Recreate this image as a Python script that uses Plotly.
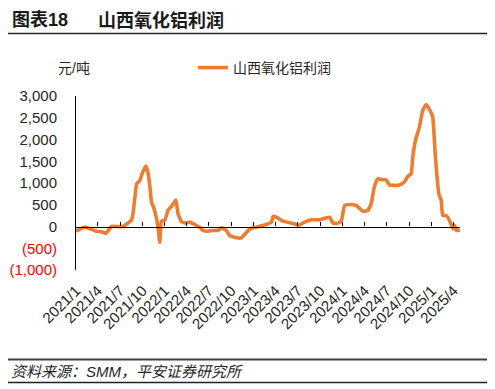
import plotly.graph_objects as go

# ---------------- data ----------------
dates = ["2021-01-01","2021-02-06","2021-03-26","2021-04-21","2021-05-04","2021-05-27","2021-07-12","2021-08-17","2021-08-24","2021-09-07","2021-09-13","2021-09-20","2021-10-02","2021-10-15","2021-10-23","2021-10-31","2021-11-07","2021-11-17","2021-12-04","2021-12-11","2021-12-18",
         "2022-01-01","2022-01-14","2022-01-28","2022-02-15","2022-02-24","2022-03-10","2022-03-28","2022-04-13","2022-05-11","2022-05-24","2022-06-07","2022-06-27","2022-07-17","2022-08-07","2022-08-21","2022-09-10","2022-09-24","2022-10-22","2022-11-11","2022-12-15",
         "2023-01-12","2023-02-08","2023-03-15","2023-03-21","2023-04-04","2023-05-01","2023-06-18","2023-07-02","2023-07-29","2023-08-26","2023-09-29","2023-10-26","2023-11-09","2023-11-22","2023-12-13","2023-12-27",
         "2024-01-09","2024-01-29","2024-02-26","2024-03-24","2024-04-13","2024-04-27","2024-05-10","2024-05-24","2024-06-13","2024-06-27","2024-07-11","2024-08-14","2024-09-10","2024-09-24","2024-10-08","2024-10-15","2024-10-26","2024-11-11","2024-11-25","2024-12-09","2024-12-25",
         "2025-01-05","2025-01-16","2025-01-30","2025-02-09","2025-02-15","2025-03-01","2025-03-15","2025-03-29","2025-04-05","2025-04-12","2025-04-26"]
profit = [-108, -15, -108, -130, -154, 0, 0, 150, 329, 980, 1018, 1057, 1250, 1390, 1250, 943, 560, 420, -15, -360, 120,
          150, 380, 460, 610, 292, 110, 80, 100, 23, -15, -92, -108, -92, -92, -31, -92, -207, -260, -260, -60,
          -15, 23, 100, 230, 215, 122, 62, 23, 100, 154, 154, 200, 215, 77, 77, 138,
          483, 506, 483, 352, 368, 521, 904, 1096, 1073, 1073, 958, 943, 1018, 1149, 1211, 1593, 1977, 2283, 2667, 2805, 2667,
          2513, 1593, 752, 598, 253, 253, 138, -54, 23, -92, -77]
series_name = "山西氧化铝利润"
y_tick_vals = [-1000, -500, 0, 500, 1000, 1500, 2000, 2500, 3000]
y_tick_text = ["(1,000)", "(500)", "0", "500", "1,000", "1,500", "2,000", "2,500", "3,000"]
x_start, x_end = "2021-01-01", "2025-04-27"
title_left = "图表18"
title_right = "山西氧化铝利润"
unit_label = "元/吨"
source_text = "资料来源：SMM，平安证券研究所"

# ---------------- layout geometry (page pixels; page body has an 8px margin) ----------------
OFF = 8
W, H = 495 - OFF, 389 - OFF
L, R, T, B = 76, 460, 96, 270
FONT = "Arial, 'Liberation Sans', 'Noto Sans CJK SC', sans-serif"


def fx(px):
    return (px - L) / (R - L)


def fy(py):
    return (B - py) / (B - T)


ticktext = [f'<span style="color:#FF0000">{t}</span>' if v < 0 else t
            for v, t in zip(y_tick_vals, y_tick_text)]

fig = go.Figure()
fig.add_trace(go.Scatter(x=dates, y=profit, mode="lines", name=series_name,
                         line=dict(color="#ED7D31", width=3.6, shape="spline", smoothing=0.4)))

fig.update_layout(
    width=W, height=H,
    margin=dict(l=L - OFF, r=495 - R, t=T - OFF, b=389 - B, pad=0, autoexpand=False),
    paper_bgcolor="white", plot_bgcolor="white",
    font=dict(family=FONT, color="#262626"),
    showlegend=True,
    legend=dict(x=fx(193), y=fy(68), xanchor="left", yanchor="middle",
                font=dict(size=14, color="#262626"), bgcolor="rgba(0,0,0,0)"),
    xaxis=dict(type="date", range=[x_start, x_end], tick0="2021-01-01", dtick="M3",
               tickformat="%Y/%-m", tickangle=-45, ticks="", showline=False,
               ticklabelstandoff=8,
               showgrid=False, zeroline=False, tickfont=dict(size=15, color="#262626")),
    xaxis2=dict(type="date", range=[x_start, x_end], tick0="2021-01-01", dtick="M3",
                overlaying="x", anchor="free", position=0.25, side="bottom",
                ticks="inside", ticklen=4, tickcolor="black", tickwidth=1,
                showline=True, linecolor="black", linewidth=1.3,
                showticklabels=False, showgrid=False, zeroline=False),
    yaxis=dict(range=[-1000, 3000], tickvals=y_tick_vals, ticktext=ticktext,
               showline=True, linecolor="black", linewidth=1, ticks="",
               ticklabelstandoff=15, showgrid=False, zeroline=False,
               tickfont=dict(size=15, color="#262626")),
    yaxis2=dict(range=[-1000, 3000], overlaying="y", anchor="x", side="left",
                tickvals=[-1000, 3000], ticks="inside", ticklen=4, tickcolor="black",
                showticklabels=False, showline=False, showgrid=False, zeroline=False),
)

# invisible trace to activate the secondary axes
fig.add_trace(go.Scatter(x=[dates[0]], y=[None], xaxis="x2", yaxis="y2",
                         showlegend=False, hoverinfo="skip"))

# title / footer rules
rules = [(5.5, 1.5, "#222222"), (33.5, 1.5, "#222222"), (359.5, 2, "#404040"), (382.5, 1.5, "#222222")]
for py, w, c in rules:
    fig.add_shape(type="line", xref="paper", yref="paper", x0=fx(6), x1=fx(489),
                  y0=fy(py), y1=fy(py), line=dict(color=c, width=w))

fig.add_annotation(xref="paper", yref="paper", x=fx(10), y=fy(20), xanchor="left", yanchor="middle",
                   text=f"<b>{title_left}</b>", showarrow=False, font=dict(size=18, color="#1a1a1a"))
fig.add_annotation(xref="paper", yref="paper", x=fx(96), y=fy(20), xanchor="left", yanchor="middle",
                   text=f"<b>{title_right}</b>", showarrow=False, font=dict(size=18, color="#1a1a1a"))
fig.add_annotation(xref="paper", yref="paper", x=fx(56), y=fy(68), xanchor="left", yanchor="middle",
                   text=unit_label, showarrow=False, font=dict(size=14, color="#262626"))
fig.add_annotation(xref="paper", yref="paper", x=fx(9), y=fy(371), xanchor="left", yanchor="middle",
                   text=f"<i>{source_text}</i>", showarrow=False, font=dict(size=15, color="#262626"))

fig.write_html("out.html")
